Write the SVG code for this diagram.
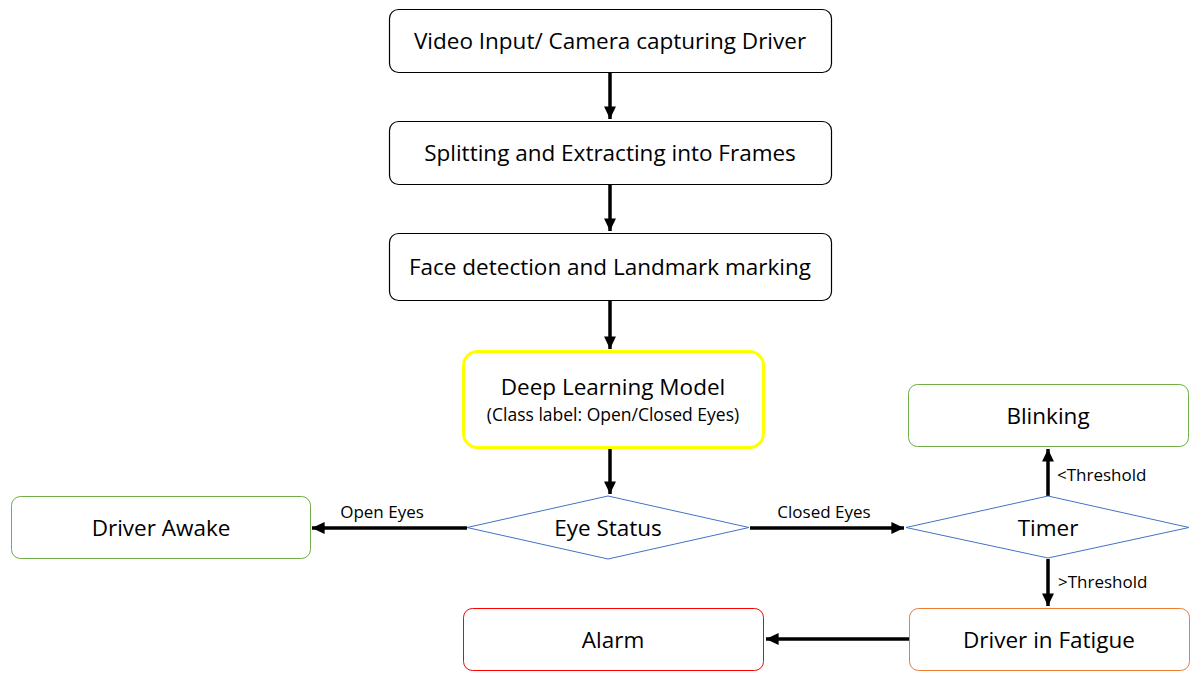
<svg xmlns="http://www.w3.org/2000/svg" width="1199" height="680" viewBox="0 0 1199 680">
<style>
.box{fill:#fff;stroke:#000;stroke-width:1.2}
.t{font-family:"Open Sans","Liberation Sans",sans-serif;font-size:22.5px;fill:#000;text-anchor:middle}
.s{font-family:"Open Sans","Liberation Sans",sans-serif;font-size:17px;fill:#000}
.c{stroke:#000;stroke-width:3.5;fill:none}
.dia{fill:#fff;stroke:#4472C4;stroke-width:1}
</style>
<defs>
<marker id="ah" markerWidth="4" markerHeight="4" refX="3.6" refY="2" orient="auto" markerUnits="strokeWidth">
<path d="M0,0.3 L3.6,2 L0,3.7 Z" fill="#000"/>
</marker>
</defs>
<rect width="1199" height="680" fill="#fff"/>
<g id="connectors">
<line class="c" x1="610" y1="72" x2="610" y2="119" marker-end="url(#ah)"/>
<line class="c" x1="610" y1="184" x2="610" y2="231" marker-end="url(#ah)"/>
<line class="c" x1="610" y1="300" x2="610" y2="349" marker-end="url(#ah)"/>
<line class="c" x1="610" y1="449" x2="610" y2="494" marker-end="url(#ah)"/>
<line class="c" x1="467" y1="528" x2="312" y2="528" marker-end="url(#ah)"/>
<line class="c" x1="750" y1="528" x2="904" y2="528" marker-end="url(#ah)"/>
<line class="c" x1="1048" y1="496" x2="1048" y2="449" marker-end="url(#ah)"/>
<line class="c" x1="1048" y1="559" x2="1048" y2="606" marker-end="url(#ah)"/>
<line class="c" x1="909" y1="639" x2="766" y2="639" marker-end="url(#ah)"/>
<text class="s" x="382" y="518" text-anchor="middle">Open Eyes</text>
<text class="s" x="824" y="518" text-anchor="middle">Closed Eyes</text>
<text class="s" x="1057" y="481">&lt;Threshold</text>
<text class="s" x="1058" y="588">&gt;Threshold</text>
</g>
<g id="video">
<rect class="box" x="389.5" y="9.5" width="442" height="63" rx="9"/>
<text class="t" x="610" y="49">Video Input/ Camera capturing Driver</text>
</g>
<g id="split">
<rect class="box" x="389.5" y="121.5" width="442" height="63" rx="9"/>
<text class="t" x="610" y="161">Splitting and Extracting into Frames</text>
</g>
<g id="face">
<rect class="box" x="389.5" y="233.5" width="442" height="67" rx="9"/>
<text class="t" x="610" y="275">Face detection and Landmark marking</text>
</g>
<g id="model">
<rect x="463.5" y="351.5" width="300" height="96" rx="14" fill="#fff" stroke="#FFFF00" stroke-width="3"/>
<text class="t" x="613" y="395">Deep Learning Model</text>
<text class="t" x="613" y="421" style="font-size:17.5px">(Class label: Open/Closed Eyes)</text>
</g>
<g id="eye">
<polygon class="dia" points="608,496 749,527.5 608,559 467,527.5"/>
<text class="t" x="608" y="536">Eye Status</text>
</g>
<g id="awake">
<rect x="11.5" y="496.5" width="299" height="62" rx="9" fill="#fff" stroke="#70AD47" stroke-width="1"/>
<text class="t" x="161" y="536">Driver Awake</text>
</g>
<g id="timer">
<polygon class="dia" points="1048,496 1189,527.5 1048,558 906,527.5"/>
<text class="t" x="1048" y="536">Timer</text>
</g>
<g id="blinking">
<rect x="908.5" y="384.5" width="280" height="62" rx="9" fill="#fff" stroke="#70AD47" stroke-width="1"/>
<text class="t" x="1048" y="424">Blinking</text>
</g>
<g id="fatigue">
<rect x="909.5" y="608.5" width="280" height="62" rx="9" fill="#fff" stroke="#ED7D31" stroke-width="1"/>
<text class="t" x="1049" y="648">Driver in Fatigue</text>
</g>
<g id="alarm">
<rect x="463.5" y="608.5" width="300" height="62" rx="9" fill="#fff" stroke="#FF0000" stroke-width="1"/>
<text class="t" x="613" y="648">Alarm</text>
</g>
</svg>
